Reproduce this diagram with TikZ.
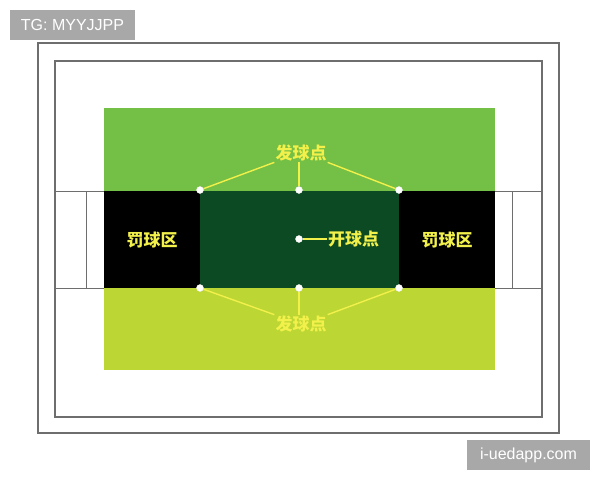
\documentclass[tikz,border=0pt]{standalone}
\usepackage{fontspec}
\newfontfamily\cjk{Noto Sans CJK SC}
\setmainfont{Liberation Sans}
\definecolor{topgreen}{HTML}{74BF45}
\definecolor{midgreen}{HTML}{0B4A22}
\definecolor{botgreen}{HTML}{BCD634}
\definecolor{labelyel}{HTML}{F2F04A}
\definecolor{framegray}{HTML}{6E6E6E}
\definecolor{wmgray}{HTML}{A8A8A8}
\tikzset{
  frame/.style={draw=framegray},
  goalline/.style={draw=framegray, line width=0.8pt},
  spot/.style={circle, fill=white, draw=white!85!gray, inner sep=0pt, minimum size=7pt},
  lab/.style={text=labelyel, font=\cjk\bfseries\fontsize{17}{17}\selectfont, inner sep=1pt},
  lead/.style={draw=labelyel, line width=1.4pt},
  wm/.style={fill=wmgray, text=white, font=\fontsize{16}{16}\selectfont, inner sep=0pt, anchor=center}
}
\begin{document}
\begin{tikzpicture}[x=1pt,y=-1pt]
\useasboundingbox (0,0) rectangle (600,480);
\fill[white] (0,0) rectangle (600,480);
% frames
\draw[frame, line width=2pt] (38,43) rectangle (559,433);
\draw[frame, line width=1.3pt] (55,61) rectangle (542,417);
% field
\fill[topgreen] (104,108) rectangle (495,191);
\fill[botgreen] (104,288) rectangle (495,370);
\fill[black] (104,191) rectangle (495,288);
\fill[midgreen] (200,191) rectangle (399,288);
% goals
\draw[goalline] (55,191) -- (104,191);
\draw[goalline] (55,288) -- (104,288);
\draw[goalline] (86,191) -- (86,288);
\draw[goalline] (495,191) -- (542,191);
\draw[goalline] (495,288) -- (542,288);
\draw[goalline] (512,191) -- (512,288);
% spots
\node[spot] (t1) at (200,190) {};
\node[spot] (t2) at (299,190) {};
\node[spot] (t3) at (399,190) {};
\node[spot] (b1) at (200,288) {};
\node[spot] (b2) at (299,288) {};
\node[spot] (b3) at (399,288) {};
\node[spot] (c) at (299,239) {};
% labels
\node[lab] (tl) at (301,153) {发球点};
\node[lab] (bl) at (301,324) {发球点};
\node[lab, anchor=west] (cl) at (327,239) {开球点};
\node[lab] (pl) at (152,240) {罚球区};
\node[lab] (pr) at (447,240) {罚球区};
% leaders
\draw[lead] (t1) -- (tl.south west);
\draw[lead] (t2) -- (t2 |- tl.south);
\draw[lead] (t3) -- (tl.south east);
\draw[lead] (b1) -- (bl.north west);
\draw[lead] (b2) -- (b2 |- bl.north);
\draw[lead] (b3) -- (bl.north east);
\draw[lead] (c) -- (cl.west);
% watermarks
\node[wm, minimum width=125pt, minimum height=30pt] (w1) at (72.5,25) {TG: MYYJJPP};
\node[wm, minimum width=123pt, minimum height=30pt] (w2) at (528.5,455) {i-uedapp.com};
\end{tikzpicture}
\end{document}
